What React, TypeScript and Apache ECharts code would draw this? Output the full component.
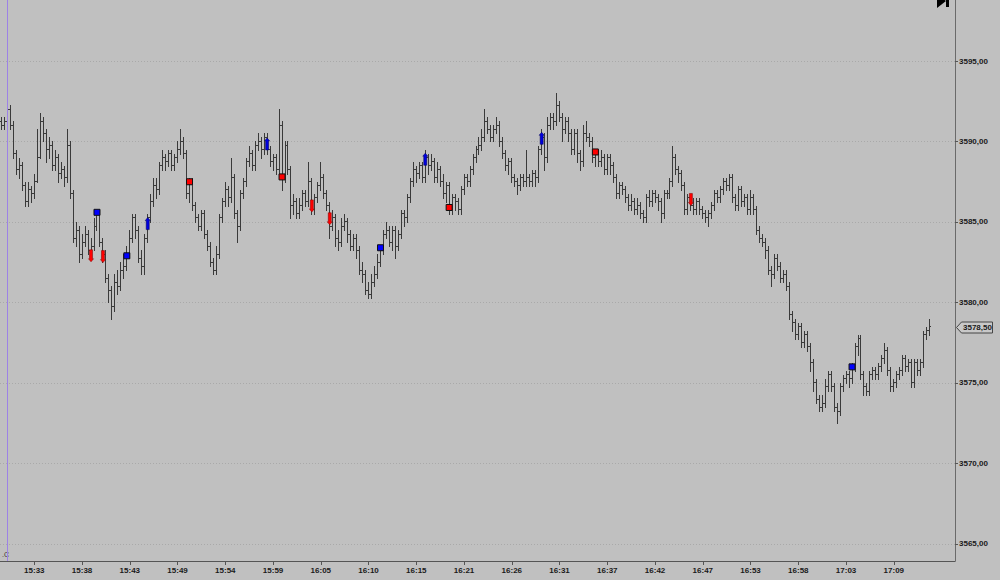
import React, { useEffect, useRef } from "react";
import * as echarts from "echarts";

// ---- time axis: 20-second bars ----
const sessionStart = { h: 15, m: 29, s: 20 };
const barSeconds = 20;
const slotCount = 320; // bar slots on the axis (last ones empty)
const firstLabelIndex = 11;
const labelEvery = 16;

// ---- OHLC values (price) ----
const opens = [
  3591.25, 3591.0, 3591.25, 3592.0, 3591.0, 3589.25, 3588.25, 3588.5, 3587.25, 3586.25, 3587.0, 3586.75, 3587.5, 3589.0, 3591.25, 3590.5,
  3589.5, 3589.75, 3588.5, 3589.0, 3588.0, 3588.25, 3587.75, 3589.75, 3586.75, 3584.0, 3584.5, 3583.0, 3583.75, 3584.25, 3583.25, 3583.5,
  3584.75, 3585.5, 3583.75, 3583.0, 3581.5, 3580.75, 3579.75, 3581.25, 3581.0, 3582.0, 3582.25, 3583.0, 3584.0, 3585.25, 3584.5, 3582.75,
  3582.25, 3584.0, 3585.25, 3586.25, 3587.25, 3587.0, 3588.5, 3589.0, 3588.75, 3589.25, 3588.5, 3589.0, 3589.5, 3590.0, 3589.25, 3586.75,
  3587.5, 3586.0, 3585.25, 3584.75, 3585.5, 3584.25, 3583.5, 3582.5, 3582.0, 3583.0, 3585.25, 3586.25, 3587.0, 3586.5, 3587.75, 3585.5,
  3584.75, 3586.75, 3587.5, 3588.75, 3589.25, 3588.5, 3589.75, 3590.0, 3589.5, 3590.25, 3589.5, 3588.75, 3589.0, 3588.25, 3591.0, 3587.75,
  3589.75, 3588.25, 3586.0, 3586.25, 3585.5, 3586.0, 3586.75, 3586.25, 3587.5, 3585.75, 3586.5, 3587.25, 3587.75, 3586.75, 3586.0, 3584.75,
  3585.25, 3584.0, 3583.75, 3584.75, 3585.0, 3584.25, 3583.5, 3584.0, 3583.25, 3582.0, 3581.75, 3580.75, 3580.5, 3581.25, 3581.75, 3582.5,
  3583.25, 3584.25, 3584.5, 3583.75, 3584.5, 3583.5, 3584.25, 3585.5, 3585.25, 3586.5, 3587.5, 3588.25, 3588.0, 3588.5, 3587.75, 3589.0,
  3588.5, 3588.75, 3587.75, 3588.25, 3587.5, 3586.75, 3587.25, 3585.75, 3586.5, 3586.25, 3585.75, 3587.0, 3587.75, 3587.5, 3588.25, 3589.0,
  3589.5, 3589.75, 3590.25, 3591.25, 3590.75, 3590.25, 3590.75, 3591.0, 3590.0, 3589.25, 3588.5, 3588.75, 3587.75, 3587.5, 3587.25, 3587.75,
  3587.5, 3587.75, 3587.5, 3588.0, 3587.75, 3589.5, 3590.25, 3589.0, 3591.0, 3591.5, 3591.25, 3592.25, 3591.5, 3590.75, 3591.25, 3590.5,
  3589.5, 3590.5, 3589.25, 3588.75, 3590.5, 3590.25, 3590.0, 3589.0, 3589.25, 3588.75, 3589.0, 3588.25, 3589.0, 3588.5, 3587.75, 3586.75,
  3587.25, 3587.0, 3586.5, 3586.0, 3586.25, 3585.75, 3586.0, 3585.5, 3585.25, 3586.5, 3586.25, 3586.75, 3586.5, 3586.25, 3585.5, 3586.75,
  3586.75, 3587.5, 3589.0, 3588.25, 3588.0, 3587.25, 3585.75, 3586.5, 3586.0, 3585.75, 3586.25, 3585.75, 3585.5, 3585.25, 3585.5, 3586.0,
  3586.75, 3586.5, 3587.0, 3587.5, 3587.25, 3587.75, 3586.5, 3586.0, 3587.0, 3586.25, 3586.5, 3585.75, 3586.5, 3585.75, 3584.5, 3584.0,
  3583.75, 3583.25, 3582.0, 3581.75, 3582.75, 3582.25, 3581.5, 3581.75, 3581.0, 3579.25, 3578.75, 3578.0, 3578.5, 3577.5, 3578.0, 3577.25,
  3576.25, 3575.0, 3574.0, 3573.5, 3573.75, 3574.75, 3575.5, 3574.75, 3573.5, 3573.25, 3574.75, 3575.25, 3575.5, 3575.25, 3576.0, 3577.25,
  3577.75, 3575.5, 3574.75, 3574.5, 3575.5, 3575.75, 3575.5, 3576.0, 3576.5, 3577.0, 3575.75, 3574.75, 3575.0, 3575.5, 3575.75, 3576.5,
  3576.0, 3576.25, 3575.0, 3576.25, 3575.75, 3576.25, 3578.0, 3578.25,
];

const highs = [
  3591.5, 3591.5, 3592.5, 3592.25, 3591.25, 3589.5, 3589.0, 3588.75, 3587.5, 3587.5, 3587.25, 3588.0, 3590.75, 3591.75, 3591.5, 3590.75,
  3590.25, 3590.0, 3589.5, 3589.25, 3588.75, 3588.5, 3590.75, 3590.0, 3587.0, 3585.0, 3584.75, 3584.25, 3584.75, 3584.5, 3584.0, 3585.25,
  3585.75, 3585.75, 3584.0, 3583.25, 3581.75, 3581.0, 3581.75, 3582.0, 3582.5, 3583.0, 3583.5, 3584.5, 3585.5, 3585.5, 3584.75, 3583.25,
  3584.25, 3585.5, 3586.75, 3587.75, 3587.75, 3588.75, 3589.5, 3589.25, 3589.5, 3589.5, 3589.25, 3590.0, 3590.75, 3590.25, 3589.5, 3587.75,
  3587.75, 3586.25, 3585.5, 3585.75, 3585.75, 3584.5, 3583.75, 3582.75, 3583.5, 3585.5, 3586.5, 3587.5, 3587.25, 3589.0, 3588.0, 3585.75,
  3587.0, 3587.75, 3589.0, 3589.75, 3589.5, 3590.0, 3590.5, 3590.25, 3590.5, 3590.5, 3589.75, 3589.25, 3589.25, 3592.0, 3591.25, 3590.0,
  3590.0, 3588.5, 3586.75, 3586.5, 3586.5, 3587.0, 3587.0, 3588.75, 3587.75, 3586.75, 3587.5, 3588.75, 3588.0, 3587.0, 3586.25, 3585.75,
  3585.5, 3584.5, 3585.25, 3585.5, 3585.25, 3584.5, 3584.25, 3584.25, 3583.5, 3582.5, 3582.0, 3581.25, 3581.75, 3582.25, 3583.0, 3583.5,
  3584.5, 3585.0, 3584.75, 3584.75, 3584.75, 3584.5, 3585.75, 3585.75, 3586.75, 3587.75, 3588.75, 3588.5, 3588.75, 3588.75, 3589.5, 3589.25,
  3589.25, 3589.0, 3588.75, 3588.5, 3588.0, 3587.5, 3587.5, 3586.75, 3586.75, 3586.5, 3587.25, 3588.0, 3588.0, 3588.5, 3589.25, 3589.75,
  3590.25, 3590.75, 3592.0, 3591.5, 3591.0, 3591.0, 3591.5, 3591.25, 3590.25, 3589.5, 3589.0, 3589.0, 3588.0, 3587.75, 3588.0, 3588.0,
  3589.5, 3588.0, 3588.25, 3588.25, 3589.75, 3590.75, 3590.5, 3591.5, 3591.75, 3591.75, 3593.0, 3592.5, 3591.75, 3591.5, 3591.5, 3590.75,
  3590.75, 3590.75, 3589.5, 3591.0, 3591.25, 3590.5, 3590.25, 3589.5, 3589.5, 3589.5, 3589.25, 3589.25, 3589.25, 3588.75, 3588.0, 3587.5,
  3587.5, 3587.25, 3586.75, 3586.75, 3586.5, 3586.5, 3586.25, 3585.75, 3586.75, 3587.0, 3587.0, 3587.0, 3586.75, 3586.5, 3587.0, 3587.0,
  3587.75, 3589.75, 3589.25, 3588.5, 3588.25, 3587.5, 3586.75, 3586.75, 3586.5, 3586.5, 3586.5, 3586.0, 3585.75, 3585.75, 3586.25, 3587.0,
  3587.0, 3587.25, 3587.75, 3587.75, 3588.0, 3588.0, 3586.75, 3587.25, 3587.25, 3586.75, 3586.75, 3587.0, 3586.75, 3586.0, 3584.75, 3584.25,
  3584.0, 3583.5, 3582.25, 3583.0, 3583.0, 3582.5, 3582.0, 3582.0, 3581.25, 3579.5, 3579.0, 3578.75, 3578.75, 3578.25, 3578.25, 3577.5,
  3576.5, 3575.25, 3574.25, 3574.25, 3575.25, 3575.75, 3575.75, 3575.0, 3573.75, 3575.0, 3575.5, 3575.75, 3575.75, 3576.25, 3577.5, 3578.0,
  3578.0, 3575.75, 3575.0, 3575.75, 3576.0, 3576.0, 3576.25, 3576.75, 3577.5, 3577.25, 3576.0, 3575.25, 3575.75, 3576.0, 3576.75, 3576.75,
  3576.5, 3576.5, 3576.5, 3576.5, 3576.5, 3578.25, 3578.5, 3579.0,
];

const lows = [
  3590.75, 3590.75, 3591.0, 3590.75, 3589.0, 3588.0, 3587.75, 3587.0, 3586.0, 3586.0, 3586.25, 3586.5, 3587.5, 3589.0, 3590.0, 3588.75,
  3589.0, 3588.25, 3588.25, 3587.5, 3587.75, 3587.25, 3587.5, 3586.5, 3583.75, 3583.5, 3582.5, 3582.75, 3583.5, 3583.0, 3582.75, 3583.25,
  3584.5, 3583.5, 3582.5, 3581.25, 3580.0, 3579.0, 3579.5, 3580.5, 3580.75, 3581.5, 3582.0, 3582.75, 3583.75, 3584.0, 3582.5, 3581.75,
  3581.75, 3583.75, 3585.0, 3586.0, 3586.5, 3586.75, 3588.25, 3588.25, 3588.5, 3588.25, 3588.25, 3588.75, 3589.25, 3589.0, 3586.5, 3586.25,
  3585.75, 3585.0, 3584.5, 3584.5, 3584.0, 3583.25, 3582.25, 3581.75, 3581.75, 3582.75, 3585.0, 3586.0, 3586.0, 3586.25, 3585.25, 3583.75,
  3584.5, 3586.5, 3587.25, 3588.5, 3588.25, 3588.25, 3589.5, 3589.0, 3589.25, 3589.25, 3588.5, 3588.25, 3588.0, 3588.0, 3587.0, 3587.5,
  3588.0, 3585.25, 3585.5, 3585.25, 3585.25, 3585.75, 3586.0, 3586.0, 3585.5, 3585.5, 3586.25, 3587.0, 3586.5, 3585.75, 3584.0, 3584.5,
  3583.5, 3583.25, 3583.5, 3584.5, 3583.75, 3583.25, 3583.25, 3582.75, 3581.75, 3581.25, 3580.5, 3580.25, 3580.25, 3581.0, 3581.5, 3582.25,
  3583.0, 3584.0, 3583.5, 3583.25, 3582.75, 3583.25, 3584.0, 3584.75, 3585.0, 3586.25, 3587.25, 3587.5, 3587.75, 3587.5, 3587.5, 3588.0,
  3588.25, 3587.5, 3587.5, 3587.25, 3586.5, 3586.25, 3585.5, 3585.5, 3585.75, 3585.5, 3585.5, 3586.75, 3587.25, 3587.25, 3588.0, 3588.75,
  3589.25, 3589.5, 3590.0, 3590.5, 3590.0, 3590.0, 3590.5, 3589.75, 3589.0, 3588.25, 3588.0, 3587.5, 3587.25, 3586.75, 3587.0, 3587.25,
  3587.25, 3587.25, 3587.25, 3587.25, 3587.5, 3589.25, 3588.25, 3588.75, 3590.75, 3590.75, 3591.0, 3591.25, 3590.0, 3590.5, 3590.0, 3589.25,
  3589.25, 3588.75, 3588.25, 3588.5, 3590.0, 3589.75, 3588.75, 3588.5, 3588.5, 3588.5, 3588.0, 3588.0, 3588.0, 3587.5, 3586.5, 3586.5,
  3586.75, 3586.25, 3585.75, 3585.75, 3585.5, 3585.5, 3585.25, 3585.0, 3585.0, 3586.0, 3586.0, 3586.25, 3585.75, 3585.0, 3585.25, 3586.5,
  3586.5, 3587.25, 3588.0, 3587.5, 3587.0, 3585.5, 3585.5, 3585.75, 3585.5, 3585.5, 3585.5, 3585.25, 3585.0, 3584.75, 3585.25, 3585.75,
  3586.25, 3586.25, 3586.75, 3587.0, 3587.0, 3586.25, 3585.75, 3585.75, 3586.0, 3586.0, 3585.5, 3585.5, 3585.5, 3584.25, 3583.75, 3583.5,
  3582.75, 3581.75, 3581.0, 3581.5, 3582.0, 3581.25, 3581.25, 3580.75, 3579.0, 3578.25, 3577.75, 3577.75, 3577.25, 3577.25, 3577.0, 3575.75,
  3574.5, 3573.75, 3573.25, 3573.25, 3573.5, 3574.5, 3574.5, 3573.25, 3572.5, 3573.0, 3574.5, 3575.0, 3574.75, 3575.0, 3575.75, 3576.75,
  3575.25, 3574.25, 3574.25, 3574.25, 3575.25, 3575.25, 3575.25, 3575.75, 3576.25, 3575.5, 3574.5, 3574.5, 3574.75, 3575.25, 3575.5, 3575.75,
  3575.75, 3574.75, 3574.75, 3575.5, 3575.5, 3576.0, 3577.75, 3578.0,
];

const closes = [
  3591.0, 3591.25, 3592.0, 3591.0, 3589.25, 3588.25, 3588.5, 3587.25, 3586.25, 3587.0, 3586.75, 3587.5, 3589.0, 3591.25, 3590.5, 3589.5,
  3589.75, 3588.5, 3589.0, 3588.0, 3588.25, 3587.75, 3589.75, 3586.75, 3584.0, 3584.5, 3583.0, 3583.75, 3584.25, 3583.25, 3583.5, 3584.75,
  3585.5, 3583.75, 3583.0, 3581.5, 3580.75, 3579.75, 3581.25, 3581.0, 3582.0, 3582.25, 3583.0, 3584.0, 3585.25, 3584.5, 3582.75, 3582.25,
  3584.0, 3585.25, 3586.25, 3587.25, 3587.0, 3588.5, 3589.0, 3588.75, 3589.25, 3588.5, 3589.0, 3589.5, 3590.0, 3589.25, 3586.75, 3587.5,
  3586.0, 3585.25, 3584.75, 3585.5, 3584.25, 3583.5, 3582.5, 3582.0, 3583.0, 3585.25, 3586.25, 3587.0, 3586.5, 3587.75, 3585.5, 3584.75,
  3586.75, 3587.5, 3588.75, 3589.25, 3588.5, 3589.75, 3590.0, 3589.5, 3590.25, 3589.5, 3588.75, 3589.0, 3588.25, 3591.0, 3587.75, 3589.75,
  3588.25, 3586.0, 3586.25, 3585.5, 3586.0, 3586.75, 3586.25, 3587.5, 3585.75, 3586.5, 3587.25, 3587.75, 3586.75, 3586.0, 3584.75, 3585.25,
  3584.0, 3583.75, 3584.75, 3585.0, 3584.25, 3583.5, 3584.0, 3583.25, 3582.0, 3581.75, 3580.75, 3580.5, 3581.25, 3581.75, 3582.5, 3583.25,
  3584.25, 3584.5, 3583.75, 3584.5, 3583.5, 3584.25, 3585.5, 3585.25, 3586.5, 3587.5, 3588.25, 3588.0, 3588.5, 3587.75, 3589.0, 3588.5,
  3588.75, 3587.75, 3588.25, 3587.5, 3586.75, 3587.25, 3585.75, 3586.5, 3586.25, 3585.75, 3587.0, 3587.75, 3587.5, 3588.25, 3589.0, 3589.5,
  3589.75, 3590.25, 3591.25, 3590.75, 3590.25, 3590.75, 3591.0, 3590.0, 3589.25, 3588.5, 3588.75, 3587.75, 3587.5, 3587.25, 3587.75, 3587.5,
  3587.75, 3587.5, 3588.0, 3587.75, 3589.5, 3590.25, 3589.0, 3591.0, 3591.5, 3591.25, 3592.25, 3591.5, 3590.75, 3591.25, 3590.5, 3589.5,
  3590.5, 3589.25, 3588.75, 3590.5, 3590.25, 3590.0, 3589.0, 3589.25, 3588.75, 3589.0, 3588.25, 3589.0, 3588.5, 3587.75, 3586.75, 3587.25,
  3587.0, 3586.5, 3586.0, 3586.25, 3585.75, 3586.0, 3585.5, 3585.25, 3586.5, 3586.25, 3586.75, 3586.5, 3586.25, 3585.5, 3586.75, 3586.75,
  3587.5, 3589.0, 3588.25, 3588.0, 3587.25, 3585.75, 3586.5, 3586.0, 3585.75, 3586.25, 3585.75, 3585.5, 3585.25, 3585.5, 3586.0, 3586.75,
  3586.5, 3587.0, 3587.5, 3587.25, 3587.75, 3586.5, 3586.0, 3587.0, 3586.25, 3586.5, 3585.75, 3586.5, 3585.75, 3584.5, 3584.0, 3583.75,
  3583.25, 3582.0, 3581.75, 3582.75, 3582.25, 3581.5, 3581.75, 3581.0, 3579.25, 3578.75, 3578.0, 3578.5, 3577.5, 3578.0, 3577.25, 3576.25,
  3575.0, 3574.0, 3573.5, 3573.75, 3574.75, 3575.5, 3574.75, 3573.5, 3573.25, 3574.75, 3575.25, 3575.5, 3575.25, 3576.0, 3577.25, 3577.75,
  3575.5, 3574.75, 3574.5, 3575.5, 3575.75, 3575.5, 3576.0, 3576.5, 3577.0, 3575.75, 3574.75, 3575.0, 3575.5, 3575.75, 3576.5, 3576.0,
  3576.25, 3575.0, 3576.25, 3575.75, 3576.25, 3578.0, 3578.25, 3578.5,
];

// ---- signal markers: [bar index, price] ----
const blueSquares = [[32, 3585.6], [42, 3582.9], [127, 3583.4], [285, 3576.0]];
const redSquares = [[63, 3587.5], [94, 3587.8], [150, 3585.9], [199, 3589.35]];
const blueUpArrows = [[49, 3584.9], [89, 3589.85], [142, 3588.9], [181, 3590.2]];
const redDownArrows = [[30, 3582.9], [34, 3582.85], [104, 3586.0], [110, 3585.2], [231, 3586.4]];

const lastPrice = 3578.5;
const sessionLineIndex = 2;

// ---- y axis range ----
const yMin = 3563.94;
const yMax = 3598.79;
const yStep = 5;

function pad(n: number) {
  return n < 10 ? "0" + n : "" + n;
}

function buildCategories(): string[] {
  const out: string[] = [];
  const base = sessionStart.h * 3600 + sessionStart.m * 60 + sessionStart.s;
  for (let i = 0; i < slotCount; i++) {
    const t = base + i * barSeconds;
    const h = Math.floor(t / 3600);
    const m = Math.floor((t % 3600) / 60);
    const s = t % 60;
    out.push(pad(h) + ":" + pad(m) + ":" + pad(s));
  }
  return out;
}

const fmtPrice = (v: number) => v.toFixed(2).replace(".", ",");

const LABEL_FONT = {
  color: "#1a1a1a",
  fontSize: 8,
  fontWeight: "bold" as const,
  fontFamily: "Liberation Sans",
};

export default function App() {
  const ref = useRef<HTMLDivElement>(null);

  useEffect(() => {
    if (!ref.current) return;
    const chart = echarts.init(ref.current, undefined, { renderer: "svg" });
    const categories = buildCategories();
    const ohlc = closes.map((c, i) => [i, opens[i], highs[i], lows[i], c]);
    const lastBar = closes.length - 1;
    const tickFn = (index: number) =>
      index >= firstLabelIndex && index <= lastBar && (index - firstLabelIndex) % labelEvery === 0;

    const upArrow = "path://M2.5,0 L5,3 L4,3 L4,12 L1,12 L1,3 L0,3 Z";
    const downArrow = "path://M1,0 L4,0 L4,9 L5,9 L2.5,12 L0,9 L1,9 Z";

    const option: any = {
      animation: false,
      backgroundColor: "#c0c0c0",
      grid: { left: 0, right: 45, top: 0, bottom: 19 },
      xAxis: {
        type: "category",
        data: categories,
        boundaryGap: true,
        axisLine: { show: true, lineStyle: { color: "#555", width: 1 } },
        axisTick: {
          show: true,
          interval: tickFn,
          alignWithLabel: true,
          length: 4,
          lineStyle: { color: "#555" },
        },
        axisLabel: {
          interval: tickFn,
          formatter: (v: string) => v.slice(0, 5),
          margin: 5,
          ...LABEL_FONT,
        },
        splitLine: { show: false },
      },
      yAxis: {
        type: "value",
        position: "right",
        min: yMin,
        max: yMax,
        splitNumber: 7,
        minInterval: yStep,
        maxInterval: yStep,
        axisLine: { show: true, lineStyle: { color: "#6a6a6a", width: 1 } },
        axisTick: { show: true, length: 3, lineStyle: { color: "#555" } },
        axisLabel: {
          showMinLabel: false,
          showMaxLabel: false,
          formatter: (v: number) =>
            Math.abs(v / yStep - Math.round(v / yStep)) < 1e-6 ? fmtPrice(v) : "",
          margin: 4,
          ...LABEL_FONT,
        },
        splitLine: {
          show: true,
          showMinLine: false,
          showMaxLine: false,
          lineStyle: { color: "#a9a9a9", type: [1, 2], width: 1 },
        },
      },
      series: [
        {
          type: "custom",
          name: "bars",
          clip: true,
          z: 2,
          data: ohlc,
          encode: { x: 0, y: [1, 2, 3, 4] },
          renderItem: (params: any, api: any) => {
            const i = api.value(0);
            const pO = api.coord([i, api.value(1)]);
            const pH = api.coord([i, api.value(2)]);
            const pL = api.coord([i, api.value(3)]);
            const pC = api.coord([i, api.value(4)]);
            const col = Math.round(pH[0] - 0.5);
            const x = col + 0.5;
            const yo = Math.round(pO[1] - 0.5) + 0.5;
            const yc = Math.round(pC[1] - 0.5) + 0.5;
            const style = { stroke: "#3a3a3a", lineWidth: 1 };
            return {
              type: "group",
              children: [
                {
                  type: "line",
                  shape: { x1: x, y1: Math.round(pH[1]), x2: x, y2: Math.round(pL[1]) + 1 },
                  style,
                },
                { type: "line", shape: { x1: col - 1, y1: yo, x2: col, y2: yo }, style },
                { type: "line", shape: { x1: col + 1, y1: yc, x2: col + 2, y2: yc }, style },
              ],
            };
          },
        },
        {
          type: "scatter",
          name: "blueSquares",
          z: 4,
          symbol: "rect",
          symbolSize: 6,
          itemStyle: { color: "#0000ff", borderColor: "#101010", borderWidth: 1, opacity: 1 },
          data: blueSquares,
          markLine: {
            silent: true,
            symbol: ["none", "none"],
            animation: false,
            data: [
              {
                xAxis: categories[sessionLineIndex],
                lineStyle: { color: "#9d82e6", type: "solid", width: 1 },
                label: { show: false },
              },
            ],
          },
        },
        {
          type: "scatter",
          name: "redSquares",
          z: 4,
          symbol: "rect",
          symbolSize: 6,
          itemStyle: { color: "#ff0000", borderColor: "#101010", borderWidth: 1, opacity: 1 },
          data: redSquares,
        },
        {
          type: "scatter",
          name: "blueUp",
          z: 4,
          symbol: upArrow,
          symbolSize: [5, 12],
          itemStyle: { color: "#0000e0", borderColor: "#00005a", borderWidth: 0.5, opacity: 1 },
          data: blueUpArrows,
        },
        {
          type: "scatter",
          name: "redDown",
          z: 4,
          symbol: downArrow,
          symbolSize: [5, 12],
          itemStyle: { color: "#ff0000", borderColor: "#8a0000", borderWidth: 0.5, opacity: 1 },
          data: redDownArrows,
        },
      ],
      graphic: [
        {
          type: "polygon",
          shape: { points: [[937, -6], [946, 1], [937, 8]] },
          style: { fill: "#000" },
        },
        { type: "rect", shape: { x: 946, y: -6, width: 3, height: 13 }, style: { fill: "#000" } },
        {
          type: "text",
          left: 2,
          top: 551,
          style: { text: ".C", fontSize: 7, fill: "#333", fontFamily: "Liberation Sans" },
        },
      ],
    };

    chart.setOption(option);

    // last-price tag placed through the y scale
    const yPix = chart.convertToPixel({ yAxisIndex: 0 }, lastPrice) as number;
    const yc = Math.round(yPix) + 0.5;
    chart.setOption({
      graphic: [
        {
          type: "polygon",
          id: "priceTagBox",
          shape: {
            points: [
              [956.5, yc],
              [961.5, yc - 5.5],
              [992.5, yc - 5.5],
              [992.5, yc + 5.5],
              [961.5, yc + 5.5],
            ],
          },
          style: { fill: "#c8c8c8", stroke: "#454545", lineWidth: 1 },
          z: 10,
        },
        {
          type: "text",
          id: "priceTagText",
          x: 963,
          y: yc,
          style: {
            text: fmtPrice(lastPrice),
            fontSize: 8,
            fontWeight: "bold",
            fontFamily: "Liberation Sans",
            fill: "#1a1a1a",
            verticalAlign: "middle",
          },
          z: 11,
        },
      ],
    });

    return () => chart.dispose();
  }, []);

  return (
    <div
      ref={ref}
      style={{ position: "absolute", left: 0, top: 0, width: 1000, height: 580 }}
    />
  );
}
